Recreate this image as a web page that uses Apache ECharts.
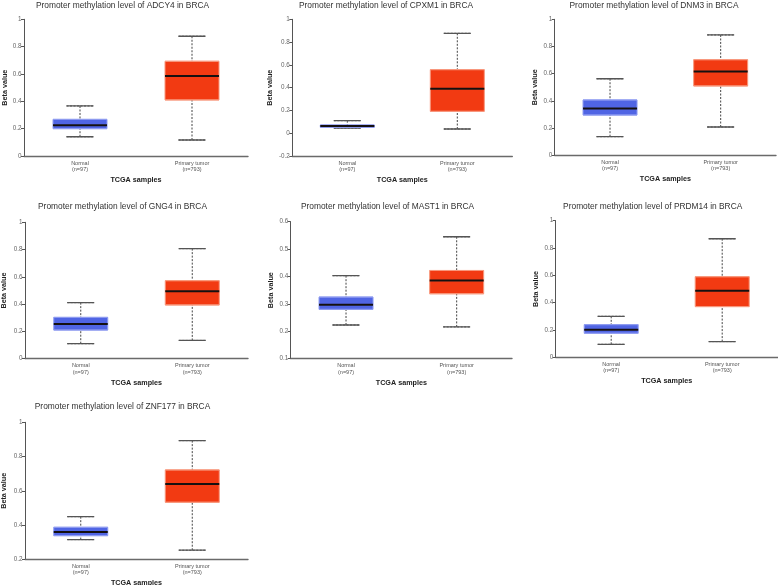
<!DOCTYPE html>
<html><head><meta charset="utf-8">
<script src="https://cdn.jsdelivr.net/npm/echarts@6/dist/echarts.min.js"></script>
<style>html,body{margin:0;padding:0;background:#fff}#c{width:778px;height:585px}</style>
</head><body><div id="c"></div>
<script>
// ---- data ----
const genes = ['ADCY4', 'CPXM1', 'DNM3', 'GNG4', 'MAST1', 'PRDM14', 'ZNF177'];
const categories = ['Normal\n(n=97)', 'Primary tumor\n(n=793)'];
// [min, Q1, median, Q3, max]
const normalStats = [
  [0.141, 0.200, 0.225, 0.268, 0.366],
  [0.046, 0.052, 0.063, 0.072, 0.110],
  [0.137, 0.296, 0.345, 0.407, 0.563],
  [0.110, 0.210, 0.254, 0.303, 0.411],
  [0.223, 0.280, 0.297, 0.325, 0.403],
  [0.095, 0.176, 0.202, 0.239, 0.300],
  [0.315, 0.338, 0.360, 0.387, 0.449]
];
const tumorStats = [
  [0.117, 0.410, 0.585, 0.693, 0.876],
  [0.037, 0.192, 0.391, 0.558, 0.877],
  [0.208, 0.510, 0.617, 0.703, 0.885],
  [0.134, 0.394, 0.494, 0.572, 0.807],
  [0.216, 0.337, 0.385, 0.422, 0.545],
  [0.115, 0.371, 0.488, 0.590, 0.868],
  [0.253, 0.533, 0.640, 0.722, 0.893]
];
const yMins = [0, -0.2, 0, 0, 0.1, 0, 0.2];
const yMaxs = [1, 1, 1, 1, 0.6, 1, 1];
const yIntervals = [0.2, 0.2, 0.2, 0.2, 0.1, 0.2, 0.2];
const yAxisTitle = 'Beta value';
const xAxisTitle = 'TCGA samples';

// ---- layout ----
const panels = [
  {left: 24,    top: 19.3,  width: 224,   height: 136.7, titleX: 122.5, titleY: 5.2,   nameGap: 14},
  {left: 292.3, top: 19.3,  width: 220,   height: 136.7, titleX: 386,   titleY: 5.2,   nameGap: 19},
  {left: 554.7, top: 19.3,  width: 221.3, height: 136,   titleX: 654,   titleY: 5.2,   nameGap: 16},
  {left: 25,    top: 222.3, width: 223,   height: 136.4, titleX: 122.5, titleY: 206.8, nameGap: 17},
  {left: 290.7, top: 221.7, width: 221.3, height: 137,   titleX: 387.5, titleY: 206.3, nameGap: 16},
  {left: 555.7, top: 220.7, width: 222,   height: 136.6, titleX: 652.7, titleY: 206.3, nameGap: 16},
  {left: 25,    top: 422.3, width: 223,   height: 137,   titleX: 122.5, titleY: 406.8, nameGap: 17}
];
const FONT = '"Liberation Sans", Arial, sans-serif';
const fills = ['#5065e4', '#f23a12'];
const borders = ['#8e9bf0', '#f8977c'];

const grids = [], xAxes = [], yAxes = [], series = [], graphics = [];
const PER = 5;

panels.forEach((p, i) => {
  grids.push({left: p.left, top: p.top, width: p.width, height: p.height, outerBoundsMode: 'none', containLabel: false});
  for (let k = 0; k < PER; k++) {
    const visible = k === 0;
    xAxes.push({
      type: 'category', gridIndex: i, data: categories, boundaryGap: true, show: visible,
      position: 'bottom',
      name: visible ? xAxisTitle : '', nameLocation: 'middle', nameGap: 20.5,
      nameTextStyle: {fontFamily: FONT, fontSize: 7.2, fontWeight: 'bold', color: '#222'},
      axisLine: {show: true, onZero: false, lineStyle: {color: '#6a6a6a', width: 1.4}},
      axisTick: {show: false},
      splitLine: {show: false},
      axisLabel: {fontFamily: FONT, fontSize: 5.5, lineHeight: 6.2, color: '#555', margin: 4, interval: 0}
    });
  }
  yAxes.push({
    type: 'value', gridIndex: i, min: yMins[i], max: yMaxs[i], interval: yIntervals[i],
    name: yAxisTitle, nameLocation: 'middle', nameGap: p.nameGap,
    nameTextStyle: {fontFamily: FONT, fontSize: 7.2, fontWeight: 'bold', color: '#222'},
    axisLine: {show: true, onZero: false, lineStyle: {color: '#555', width: 1}},
    axisTick: {show: true, length: 3, lineStyle: {color: '#555', width: 1}},
    splitLine: {show: false},
    axisLabel: {fontFamily: FONT, fontSize: 6.3, color: '#666', margin: 2.5}
  });
  graphics.push({
    type: 'text', x: p.titleX, y: p.titleY,
    style: {text: 'Promoter methylation level of ' + genes[i] + ' in BRCA',
      font: '8.4px ' + FONT, fill: '#333', align: 'center', verticalAlign: 'middle',
      textAlign: 'center', textVerticalAlign: 'middle'}
  });

  const stats = [normalStats[i], tumorStats[i]];
  const base = i * PER;
  const common = {type: 'boxplot', yAxisIndex: i, silent: true, animation: false};
  // dashed whiskers
  series.push(Object.assign({}, common, {
    xAxisIndex: base, boxWidth: [27, 27],
    itemStyle: {color: 'rgba(0,0,0,0)', borderColor: '#444', borderWidth: 1, borderType: [2, 1.5]},
    data: stats.map(s => [s[0], s[2], s[2], s[2], s[4]])
  }));
  // lower caps
  series.push(Object.assign({}, common, {
    xAxisIndex: base + 1, boxWidth: [27, 27],
    itemStyle: {color: 'rgba(0,0,0,0)', borderColor: '#555', borderWidth: 1.3},
    data: stats.map(s => [s[0], s[0], s[0], s[0], s[0]])
  }));
  // upper caps
  series.push(Object.assign({}, common, {
    xAxisIndex: base + 2, boxWidth: [27, 27],
    itemStyle: {color: 'rgba(0,0,0,0)', borderColor: '#555', borderWidth: 1.3},
    data: stats.map(s => [s[4], s[4], s[4], s[4], s[4]])
  }));
  // boxes
  series.push(Object.assign({}, common, {
    xAxisIndex: base + 3, boxWidth: [54, 54],
    itemStyle: {borderWidth: 1},
    data: stats.map((s, j) => ({value: [s[1], s[1], s[2], s[3], s[3]], itemStyle: {color: fills[j], borderColor: borders[j], borderWidth: 1}}))
  }));
  // medians
  series.push(Object.assign({}, common, {
    xAxisIndex: base + 4, boxWidth: [54, 54],
    itemStyle: {color: 'rgba(0,0,0,0)', borderColor: '#151010', borderWidth: 2},
    data: stats.map(s => [s[2], s[2], s[2], s[2], s[2]])
  }));
});

const chart = echarts.init(document.getElementById('c'), null, {renderer: 'canvas'});
chart.setOption({
  animation: false,
  backgroundColor: '#fff',
  grid: grids, xAxis: xAxes, yAxis: yAxes, series: series, graphic: graphics
});
</script></body></html>
